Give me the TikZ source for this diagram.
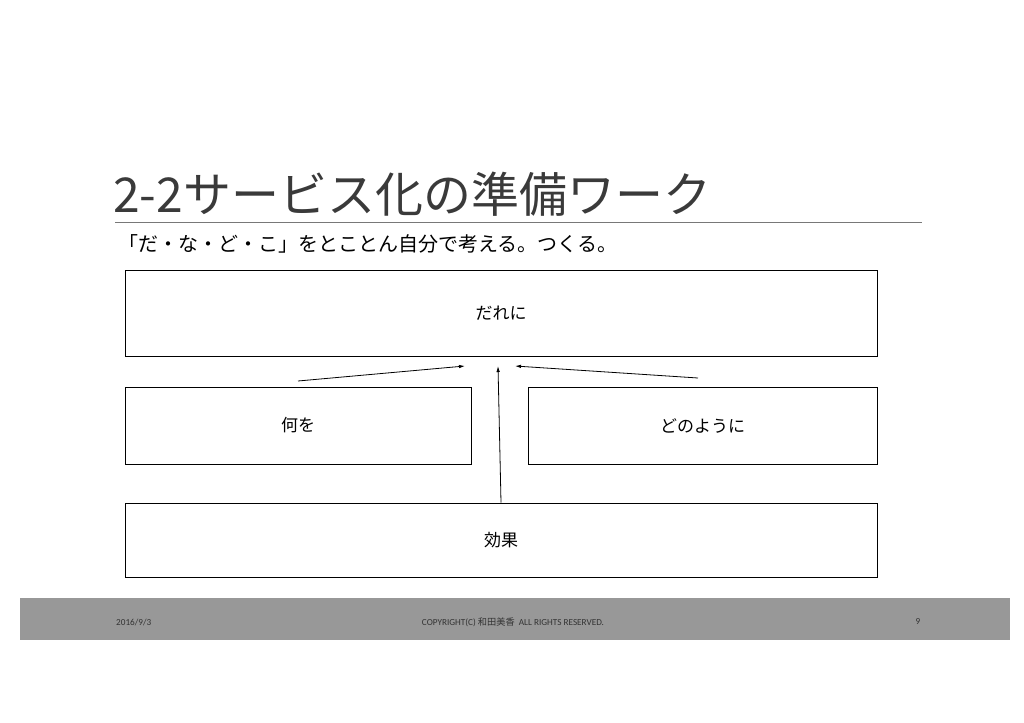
\documentclass[tikz,border=0pt]{standalone}
\usepackage{fontspec}
\setmainfont{Carlito}
\newfontfamily\cjk{Noto Sans CJK JP}
\usetikzlibrary{arrows.meta}

\definecolor{titlegray}{RGB}{58,58,58}
\definecolor{bandgray}{RGB}{152,152,152}
\definecolor{rulegray}{RGB}{120,120,120}

\tikzstyle{box} = [draw, line width=1pt, inner sep=0pt, font=\cjk\fontsize{17}{19}\selectfont]
\tikzstyle{link} = [line width=0.8pt, -{Latex[length=6pt,width=3.5pt]}]
\tikzstyle{foot} = [inner sep=0pt, text=black!80, font=\fontsize{9.2}{11}\selectfont]

\begin{document}
\begin{tikzpicture}[x=1pt, y=-1pt]
\useasboundingbox (0,0) rectangle (1024,722);
% title and rule
\node[anchor=base west, inner sep=0pt, text=titlegray,
    font=\cjk\fontsize{48}{52}\selectfont] (title) at (113,212) {2-2サービス化の準備ワーク};
\draw[rulegray, line width=0.8pt] (115,222) -- (922,222);
\node[anchor=base west, inner sep=0pt,
    font=\cjk\fontsize{20}{23}\selectfont] (lead) at (118,251) {「だ・な・ど・こ」をとことん自分で考える。つくる。};
% boxes
\node[box, minimum width=752pt, minimum height=86pt] (dare) at (501,313) {だれに};
\node[box, minimum width=346pt, minimum height=77pt] (nani) at (298,425.5) {何を};
\node[box, minimum width=349pt, minimum height=77pt] (dono) at (702.5,425.5) {どのように};
\node[box, minimum width=752pt, minimum height=74pt] (koka) at (501,540) {効果};
% arrows
\coordinate (naniout) at (298,381);
\coordinate (naniin) at (465,366);
\coordinate (kokain) at (498,366);
\coordinate (donoout) at (698,378);
\coordinate (donoin) at (515,366);
\draw[link] (naniout) -- (naniin);
\draw[link] (koka.north) -- (kokain);
\draw[link] (donoout) -- (donoin);
% footer
\fill[bandgray] (20,598) rectangle (1010,640);
\node[foot, anchor=west] (date) at (116,622) {2016/9/3};
\node[foot] (copy) at (513,622) {COPYRIGHT(C) {\cjk 和田美香}\ \ ALL RIGHTS RESERVED.};
\node[foot] (page) at (918,622) {9};
\end{tikzpicture}
\end{document}
